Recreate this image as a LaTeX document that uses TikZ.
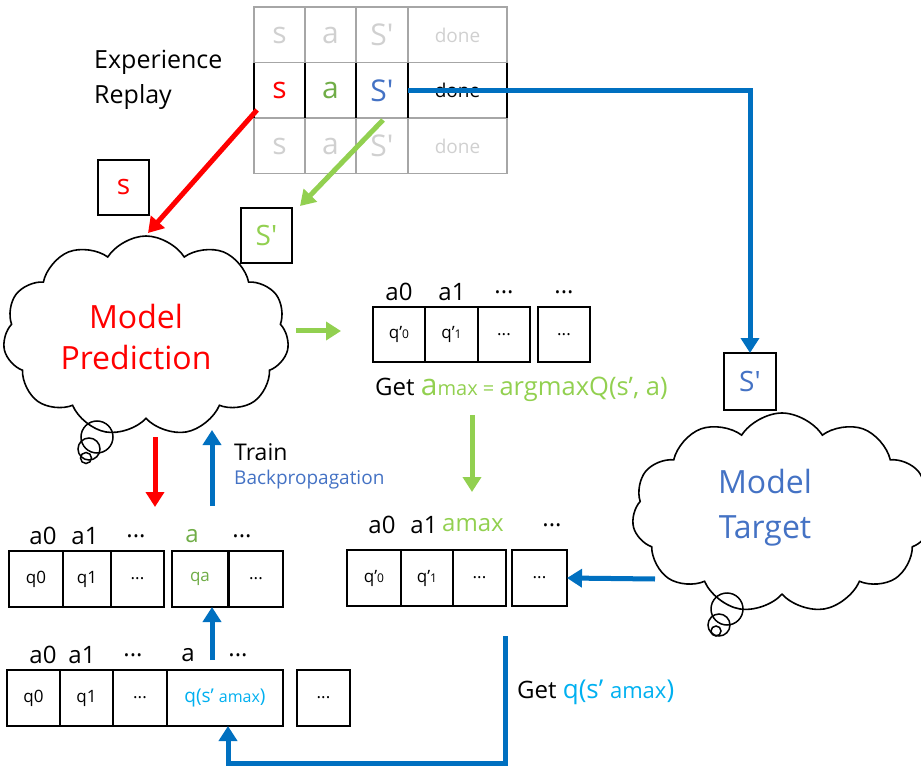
\documentclass[tikz,border=0pt]{standalone}
\usepackage{fontspec}
\setmainfont{Open Sans}
\usetikzlibrary{arrows.meta,shapes.symbols}
\definecolor{cRed}{HTML}{FF0000}
\definecolor{cGreen}{HTML}{70AD47}
\definecolor{cLGreen}{HTML}{92D050}
\definecolor{cBlueT}{HTML}{4472C4}
\definecolor{cBlue}{HTML}{0070C0}
\definecolor{cCyan}{HTML}{00B0F0}
\definecolor{cGridGray}{HTML}{A6A6A6}
\definecolor{cTxtGray}{HTML}{D0D0D0}
\newcommand\fsz[1]{\fontsize{#1}{#1}\selectfont}
\begin{document}
\begin{tikzpicture}[x=1pt,y=-1pt,
  tcell/.style={draw=cGridGray, line width=1.5, minimum width=#1, minimum height=55.5, inner sep=0, outer sep=0},
  gtxt/.style={text=cTxtGray},
  qbox/.style={draw=black, line width=1.8, fill=white, inner sep=0, outer sep=0, minimum width=#1, minimum height=55, font=\fsz{17}},
  lbl/.style={font=\fsz{24}, inner sep=0},
  arr/.style={line width=5, -{Triangle[width=18,length=15]}},
  cloudy/.style={cloud, draw=black, line width=1.6, cloud puffs=11, cloud puff arc=115, inner sep=0, outer sep=0},
  bub/.style={draw=black, line width=1.5}
]
\useasboundingbox (0,0) rectangle (921,767);

% ---------------- Experience replay table ----------------
\node[anchor=north west, align=left, inner sep=0, font=\fontsize{25}{35}\selectfont] (exp) at (94,50) {Experience\\Replay};

\node[tcell=51, gtxt, font=\fsz{30}] (t11) at (279.5,35) {s};
\node[tcell=51, gtxt, font=\fsz{30}] (t12) at (330.5,35) {a};
\node[tcell=52, gtxt, font=\fsz{30}] (t13) at (382,35) {S\textquotesingle};
\node[tcell=99, gtxt, font=\fsz{19}] (t14) at (457.5,35) {done};

\node[tcell=51, text=cRed, font=\fsz{30}] (t21) at (279.5,90.5) {s};
\node[tcell=51, text=cGreen, font=\fsz{30}] (t22) at (330.5,90.5) {a};
\node[tcell=52, text=cBlueT, font=\fsz{30}] (t23) at (382,90.5) {S\textquotesingle};
\node[tcell=99, font=\fsz{19}] (t24) at (457.5,90.5) {done};

\node[tcell=51, gtxt, font=\fsz{30}] (t31) at (279.5,146) {s};
\node[tcell=51, gtxt, font=\fsz{30}] (t32) at (330.5,146) {a};
\node[tcell=52, gtxt, font=\fsz{30}] (t33) at (382,146) {S\textquotesingle};
\node[tcell=99, gtxt, font=\fsz{19}] (t34) at (457.5,146) {done};

\foreach \c in {t21,t22,t23,t24}{
  \draw[black, line width=1.8] (\c.north west) -- (\c.south west);
  \draw[black, line width=1.8] (\c.north east) -- (\c.south east);
}

% ---------------- Clouds ----------------
\node[cloudy, aspect=1.45, minimum width=286, minimum height=200] (cloudP) at (146,336) {};
\node[text=cRed, align=center, font=\fontsize{32}{42}\selectfont, inner sep=0] (cloudPtxt) at (136,337) {Model\\Prediction};
\draw[bub] (97,437) circle (16);
\draw[bub] (89,449) circle (11);
\draw[bub] (86,458) circle (5.5);

\node[cloudy, aspect=1.5, minimum width=300, minimum height=200] (cloudT) at (782,513) {};
\node[text=cBlueT, align=center, font=\fontsize{32}{45}\selectfont, inner sep=0] (cloudTtxt) at (765,508) {Model\\Target};
\draw[bub] (727,609) circle (16);
\draw[bub] (719,625) circle (11);
\draw[bub] (716,631) circle (5);

% ---------------- state boxes ----------------
\node[qbox=51, text=cRed, font=\fsz{28}] (sA) at (123.5,187.5) {s};
\node[qbox=51, text=cLGreen, font=\fsz{28}] (sG) at (266.5,235.5) {S\textquotesingle};
\node[qbox=52, minimum height=57, text=cBlueT, font=\fsz{28}] (sB) at (750,381.5) {S\textquotesingle};

% ---------------- arrows from the table ----------------
\coordinate (redS) at (257,110);
\coordinate (redE) at (148,233);
\draw[arr, cRed] (redS) -- (redE);
\coordinate (grnS) at (383,120);
\coordinate (grnE) at (300,206);
\draw[arr, cLGreen] (grnS) -- (grnE);
\draw[arr, cBlue] (t23.east) -| (sB.north);

% ---------------- q' row (top middle) ----------------
\node[qbox=52] (u1) at (399,334.5) {q’{\fsz{12}0}};
\node[qbox=53] (u2) at (451.5,334.5) {q’{\fsz{12}1}};
\node[qbox=52] (u3) at (504,334.5) {...};
\node[qbox=52] (u4) at (564,334.5) {...};
\node[lbl] (ul1) at (399,292) {a0};
\node[lbl] (ul2) at (452,292) {a1};
\node[lbl] (ul3) at (504,292) {...};
\node[lbl] (ul4) at (564,292) {...};

\coordinate (gS) at (296,331);
\coordinate (gE) at (341,331);
\draw[arr, cLGreen] (gS) -- (gE);

\node[anchor=west, inner sep=0] (getA) at (375,389) {\fsz{24}Get {\color{cLGreen}\fsz{30}a\fsz{20}max = \fsz{25.5}argmaxQ(s’, a)}};

\coordinate (gdS) at (472,415);
\coordinate (gdE) at (472,492);
\draw[arr, cLGreen] (gdS) -- (gdE);

% ---------------- row A (prediction q) ----------------
\node[qbox=54, minimum height=56] (a1) at (36,579) {q0};
\node[qbox=48, minimum height=56] (a2) at (87,579) {q1};
\node[qbox=53, minimum height=56] (a3) at (137.5,579) {...};
\node[qbox=56, minimum height=56, text=cGreen] (a4) at (200,579) {qa};
\node[qbox=54, minimum height=56] (a5) at (256,579) {...};
\node[lbl] (al1) at (43,536) {a0};
\node[lbl] (al2) at (85,536) {a1};
\node[lbl] (al3) at (136,536) {...};
\node[lbl, text=cGreen] (al4) at (192,536) {a};
\node[lbl] (al5) at (242,536) {...};

\coordinate (rdS) at (155,437);
\coordinate (rdE) at (155,507);
\draw[arr, cRed] (rdS) -- (rdE);
\coordinate (trS) at (212,506);
\coordinate (trE) at (212,430);
\draw[arr, cBlue] (trS) -- (trE);
\node[anchor=west, inner sep=0, font=\fsz{23}] (train) at (234,452) {Train};
\node[anchor=west, inner sep=0, font=\fsz{19}, text=cBlueT] (bp) at (234,480) {Backpropagation};

% ---------------- row B (target q') ----------------
\node[qbox=54, minimum height=56] (b1) at (374,578) {q’{\fsz{12}0}};
\node[qbox=52, minimum height=56] (b2) at (427,578) {q’{\fsz{12}1}};
\node[qbox=53, minimum height=56] (b3) at (479.5,578) {...};
\node[qbox=55, minimum height=56] (b4) at (539.5,578) {...};
\node[lbl] (bl1) at (382,525) {a0};
\node[lbl] (bl2) at (424,525) {a1};
\node[lbl, text=cLGreen] (bl3) at (473,525) {amax};
\node[lbl] (bl4) at (552,525) {...};

\coordinate (ctS) at (655,579);
\draw[arr, cBlue] (ctS) -- (b4.east);

% ---------------- row C (target for training) ----------------
\node[qbox=53, minimum height=56] (c1) at (33.5,698) {q0};
\node[qbox=53, minimum height=56] (c2) at (86.5,698) {q1};
\node[qbox=54, minimum height=56] (c3) at (140,698) {...};
\node[qbox=116, minimum height=56, text=cCyan] (c4) at (225,698) {\fsz{19}q(s’ {\fsz{16}amax})};
\node[qbox=53, minimum height=56] (c5) at (323.5,698) {...};
\node[lbl] (cl1) at (43,655) {a0};
\node[lbl] (cl2) at (82,655) {a1};
\node[lbl] (cl3) at (133,655) {...};
\node[lbl] (cl4) at (188,655) {a};
\node[lbl] (cl5) at (238,655) {...};

\coordinate (upS) at (212,660);
\draw[arr, cBlue] (upS) -- (upS |- a4.south);

\coordinate (lS) at (505,636);
\coordinate (lT) at (228,763);
\draw[line width=5, cBlue, -{Triangle[width=18,length=15]}] (lS) |- (lT) -- (lT |- c4.south);

\node[anchor=west, inner sep=0] (getQ) at (517,692) {\fsz{24}Get {\color{cCyan}\fsz{26}q(s’ {\fsz{22}amax}\fsz{26})}};

\end{tikzpicture}
\end{document}
